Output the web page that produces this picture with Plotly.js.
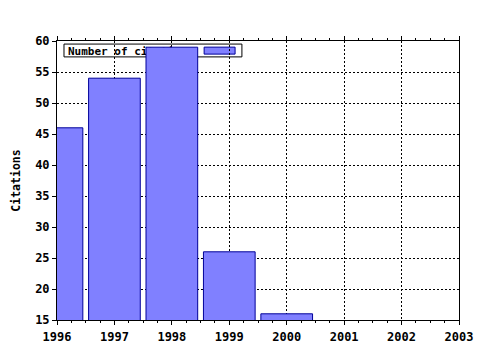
<!DOCTYPE html>
<html>
<head>
<meta charset="utf-8">
<script src="https://cdn.plot.ly/plotly-3.0.1.min.js"></script>
<style>html,body{margin:0;padding:0;background:#fff;}#chart{width:480px;height:350px;}</style>
</head>
<body>
<div id="chart"></div>
<script>
const years = [1996, 1997, 1998, 1999, 2000];
const citations = [46, 54, 59, 26, 16];
const seriesName = 'Number of citations';
const yTitle = 'Citations';

const fam = 'DejaVu Sans Mono, Liberation Mono, monospace';
const fnt = {family: fam, size: 11, color: '#000', weight: 'bold'};
const tickFnt = {family: fam, size: 12, color: '#000', weight: 'bold'};
const titleFnt = {family: fam, size: 11.5, color: '#000', weight: 'bold'};
const fillColor = '#8080ff';
const edgeColor = '#000099';

const trace = {
  type: 'bar',
  x: years,
  y: citations,
  name: seriesName,
  width: 0.9,
  marker: {color: fillColor, line: {color: edgeColor, width: 1}},
  showlegend: false,
  hoverinfo: 'x+y'
};

const layout = {
  width: 480, height: 350,
  margin: {l: 57, r: 21, t: 41, b: 30},
  paper_bgcolor: '#fff', plot_bgcolor: '#fff',
  font: fnt,
  showlegend: false,
  xaxis: {
    range: [1996, 2003], dtick: 1, tick0: 1996,
    showgrid: true, gridcolor: '#000', gridwidth: 1, griddash: '2px,2px',
    showline: true, linecolor: '#000', linewidth: 1, mirror: 'ticks',
    ticks: 'outside', ticklen: 4, tickcolor: '#000',
    minor: {dtick: 0.25, ticks: 'outside', ticklen: 2, tickcolor: '#000', showgrid: false},
    zeroline: false, tickfont: tickFnt, ticklabelstandoff: 2, fixedrange: true
  },
  yaxis: {
    range: [15, 60], dtick: 5, tick0: 15,
    showgrid: true, gridcolor: '#000', gridwidth: 1, griddash: '2px,2px',
    showline: true, linecolor: '#000', linewidth: 1, mirror: true,
    ticks: 'outside', ticklen: 4, tickcolor: '#000',
    zeroline: false, tickfont: tickFnt,
    title: {text: yTitle, font: titleFnt, standoff: 12}, fixedrange: true
  },
  shapes: [
    {type: 'rect', xref: 'paper', yref: 'paper', layer: 'between',
     x0: 0.0174, x1: 0.460, y0: 0.943, y1: 0.989,
     fillcolor: '#fff', line: {color: '#000', width: 1},
     label: {text: seriesName, textposition: 'middle left', font: fnt, padding: 1}},
    {type: 'rect', xref: 'paper', yref: 'paper', layer: 'between',
     x0: 0.366, x1: 0.443, y0: 0.953, y1: 0.978,
     fillcolor: fillColor, line: {color: edgeColor, width: 1}}
  ]
};

Plotly.newPlot('chart', [trace], layout, {staticPlot: true, displayModeBar: false});
</script>
</body>
</html>
